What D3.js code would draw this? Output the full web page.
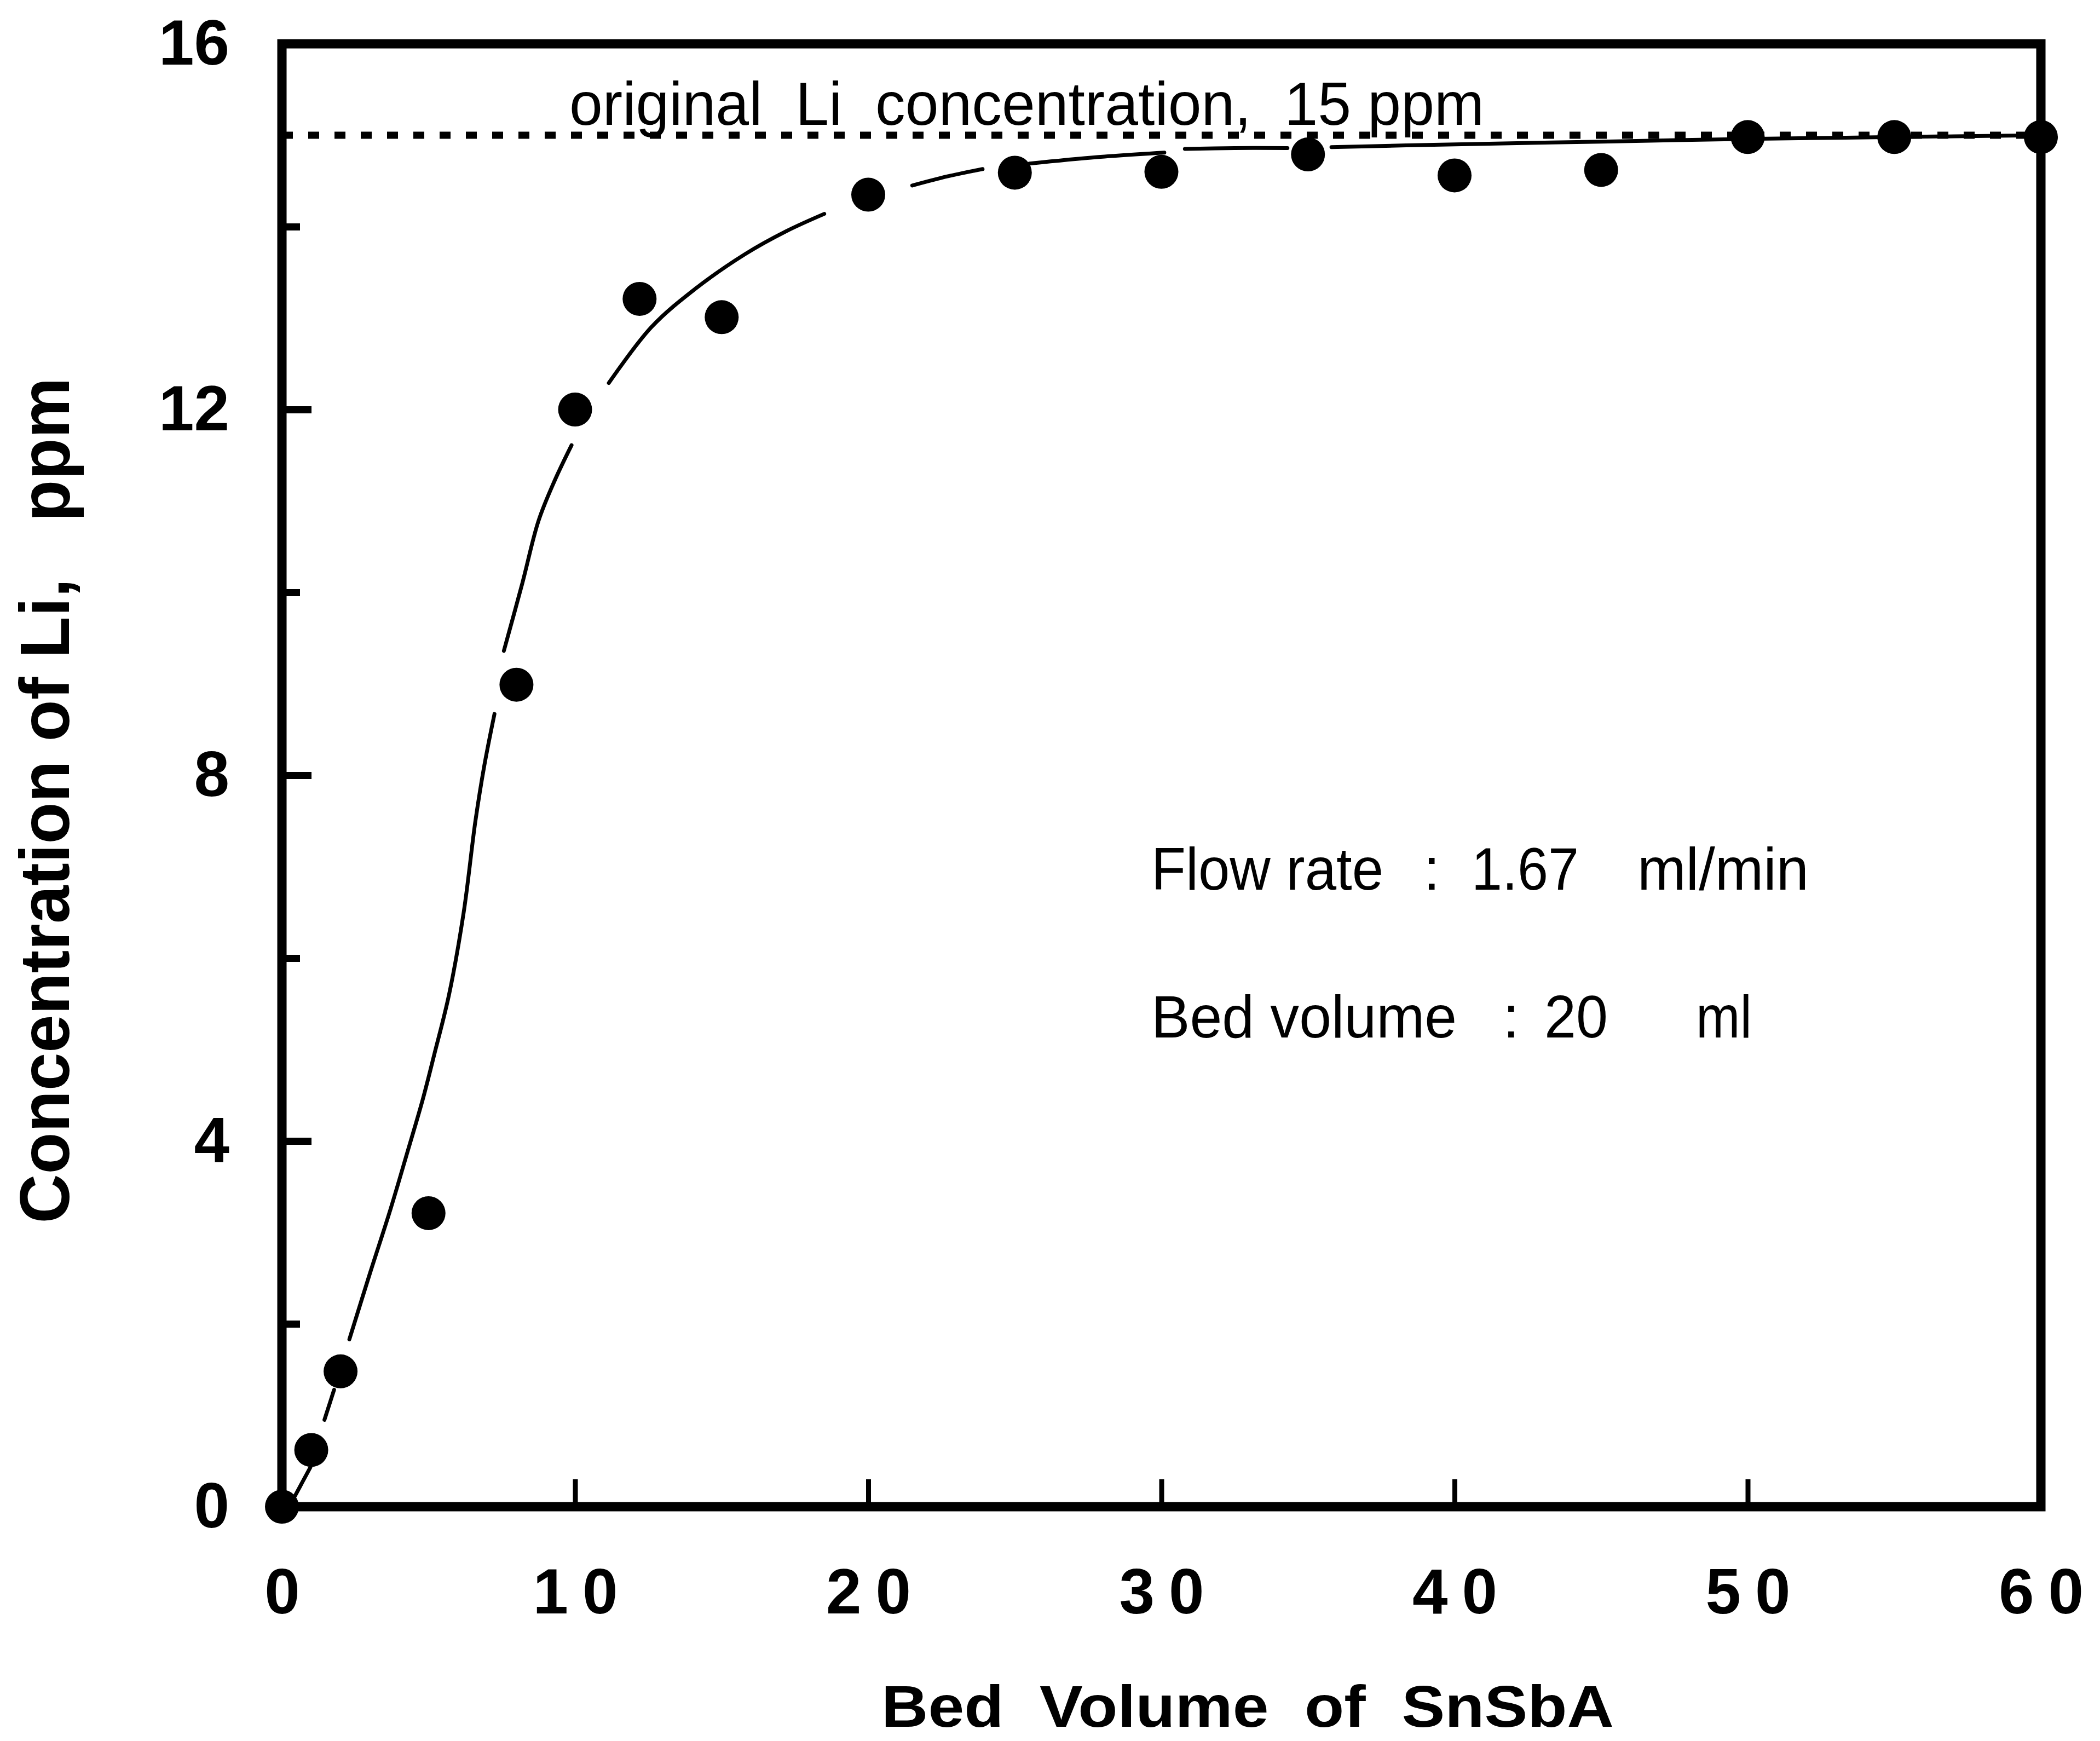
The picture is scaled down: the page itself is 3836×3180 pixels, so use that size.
<!DOCTYPE html>
<html>
<head>
<meta charset="utf-8">
<script src="https://cdn.jsdelivr.net/npm/d3@7"></script>
<style>
  html, body { margin: 0; padding: 0; background: #fff; }
  svg { display: block; }
  text { font-family: "Liberation Sans", Arial, Helvetica, sans-serif; fill: #000; }
</style>
</head>
<body>
<script>
// measured points (bed volume vs Li in effluent)
const bedVolume = [0, 1, 2, 5, 8, 10, 12.2, 15, 20, 25, 30, 35, 40, 45, 50, 55, 60];
const liConc = [0, 0.62, 1.48, 3.21, 8.99, 12.0, 13.21, 13.01, 14.35, 14.59, 14.6, 14.79, 14.56, 14.62, 14.98, 14.98, 14.98];

// hand drawn fit line (it breaks at the markers)
const fitCurve = [
  [[0.45, 0.12], [0.7, 0.27], [0.97, 0.43]],
  [[1.45, 0.95], [1.62, 1.12], [1.78, 1.28]],
  [[2.3, 1.83], [3.0, 2.55], [3.7, 3.25], [4.3, 3.9], [4.8, 4.45], [5.2, 4.95], [5.7, 5.6], [6.2, 6.5], [6.6, 7.5], [6.9, 8.1], [7.25, 8.67]],
  [[7.57, 9.36], [8.2, 10.1], [8.75, 10.78], [9.3, 11.22], [9.88, 11.61]],
  [[11.15, 12.29], [12.6, 12.9], [14.1, 13.32], [15.8, 13.7], [17.2, 13.95], [18.5, 14.14]],
  [[21.5, 14.45], [22.7, 14.55], [23.9, 14.63]],
  [[25.5, 14.69], [27.8, 14.76], [30.1, 14.81]],
  [[30.8, 14.85], [32.5, 14.86], [34.3, 14.86]],
  [[35.8, 14.87], [40, 14.9], [45, 14.93], [50, 14.96], [55, 14.98], [60, 15.0]]
];

const originalConc = 15;
const xTicks = [0, 10, 20, 30, 40, 50, 60];
const yTicks = [0, 4, 8, 12, 16];
const yMinorTicks = [2, 6, 10, 14];

const width = 3836, height = 3180;
const margin = { left: 515, right: 3728, top: 80, bottom: 2752 };

const svg = d3.select('body').append('svg')
  .attr('width', width)
  .attr('height', height);

svg.append('rect').attr('width', width).attr('height', height).attr('fill', '#fff');

const x = d3.scaleLinear().domain([0, 60]).range([margin.left, margin.right]);
const y = d3.scaleLinear().domain([0, 16]).range([margin.bottom, margin.top]);

// inner ticks on y axis
const yMajor = svg.append('g').attr('transform', `translate(${margin.left},0)`)
  .call(d3.axisRight(y).tickValues([4, 8, 12]).tickSize(54).tickFormat(''));
const yMinor = svg.append('g').attr('transform', `translate(${margin.left},0)`)
  .call(d3.axisRight(y).tickValues(yMinorTicks).tickSize(33).tickFormat(''));
[yMajor, yMinor].forEach(g => {
  g.select('.domain').remove();
  g.selectAll('line').attr('stroke', '#000').attr('stroke-width', 13);
});

// inner ticks on x axis
const xInner = svg.append('g').attr('transform', `translate(0,${margin.bottom})`)
  .call(d3.axisTop(x).tickValues([10, 20, 30, 40, 50]).tickSize(50).tickFormat(''));
xInner.select('.domain').remove();
xInner.selectAll('line').attr('stroke', '#000').attr('stroke-width', 9);

// tick labels
const yLab = svg.append('g').attr('transform', `translate(${margin.left},0)`)
  .call(d3.axisLeft(y).tickValues(yTicks).tickSize(0).tickPadding(96));
yLab.select('.domain').remove();
yLab.selectAll('text')
  .attr('font-size', 116)
  .attr('font-weight', 'bold')
  .attr('font-family', '"Liberation Sans", Arial, sans-serif');

const xLab = svg.append('g').attr('transform', `translate(0,${margin.bottom})`)
  .call(d3.axisBottom(x).tickValues(xTicks).tickSize(0).tickPadding(113));
xLab.select('.domain').remove();
xLab.selectAll('text')
  .attr('font-size', 116)
  .attr('font-weight', 'bold')
  .attr('letter-spacing', 26)
  .attr('dx', 13)
  .attr('font-family', '"Liberation Sans", Arial, sans-serif');

// original concentration line
svg.append('line')
  .attr('x1', x(0)).attr('x2', x(60))
  .attr('y1', y(originalConc)).attr('y2', y(originalConc))
  .attr('stroke', '#000')
  .attr('stroke-width', 13)
  .attr('stroke-dasharray', '20 28');

svg.append('text')
  .attr('x', 1040).attr('y', 228)
  .attr('font-size', 112)
  .attr('textLength', 1671)
  .attr('lengthAdjust', 'spacingAndGlyphs')
  .style('white-space', 'pre')
  .text('original  Li  concentration,  15 ppm');

// fit line
const line = d3.line()
  .x(d => x(d[0]))
  .y(d => y(d[1]))
  .curve(d3.curveCatmullRom.alpha(0.5));

svg.append('g').selectAll('path')
  .data(fitCurve)
  .join('path')
  .attr('d', line)
  .attr('fill', 'none')
  .attr('stroke', '#000')
  .attr('stroke-width', 7)
  .attr('stroke-linecap', 'round');

// frame
svg.append('rect')
  .attr('x', margin.left).attr('y', margin.top)
  .attr('width', margin.right - margin.left).attr('height', margin.bottom - margin.top)
  .attr('fill', 'none')
  .attr('stroke', '#000')
  .attr('stroke-width', 17);

// data points
svg.append('g').selectAll('circle')
  .data(bedVolume.map((v, i) => [v, liConc[i]]))
  .join('circle')
  .attr('cx', d => x(d[0]))
  .attr('cy', d => y(d[1]))
  .attr('r', 31)
  .attr('fill', '#000');

// notes
const notes = [
  { t: 'Flow rate', x0: 2103, w: 424, yb: 1625 },
  { t: ':', x0: 2600, w: 0, yb: 1625 },
  { t: '1.67', x0: 2688, w: 196, yb: 1625 },
  { t: 'ml/min', x0: 2991, w: 313, yb: 1625 },
  { t: 'Bed volume', x0: 2103, w: 558, yb: 1895 },
  { t: ':', x0: 2745, w: 0, yb: 1895 },
  { t: '20', x0: 2821, w: 116, yb: 1895 },
  { t: 'ml', x0: 3098, w: 102, yb: 1895 }
];
notes.forEach(n => {
  const t = svg.append('text')
    .attr('x', n.x0).attr('y', n.yb)
    .attr('font-size', 110)
    .text(n.t);
  if (n.w) t.attr('textLength', n.w).attr('lengthAdjust', 'spacingAndGlyphs');
});

// axis titles
svg.append('text')
  .attr('transform', 'translate(126,1462) rotate(-90)')
  .attr('text-anchor', 'middle')
  .attr('font-size', 128)
  .attr('font-weight', 'bold')
  .attr('textLength', 1545)
  .attr('lengthAdjust', 'spacingAndGlyphs')
  .style('white-space', 'pre')
  .text('Concentration of Li,   ppm');

svg.append('text')
  .attr('x', 1610).attr('y', 3154)
  .attr('font-size', 108)
  .attr('font-weight', 'bold')
  .attr('textLength', 1338)
  .attr('lengthAdjust', 'spacingAndGlyphs')
  .style('white-space', 'pre')
  .text('Bed  Volume  of  SnSbA');
</script>
</body>
</html>
